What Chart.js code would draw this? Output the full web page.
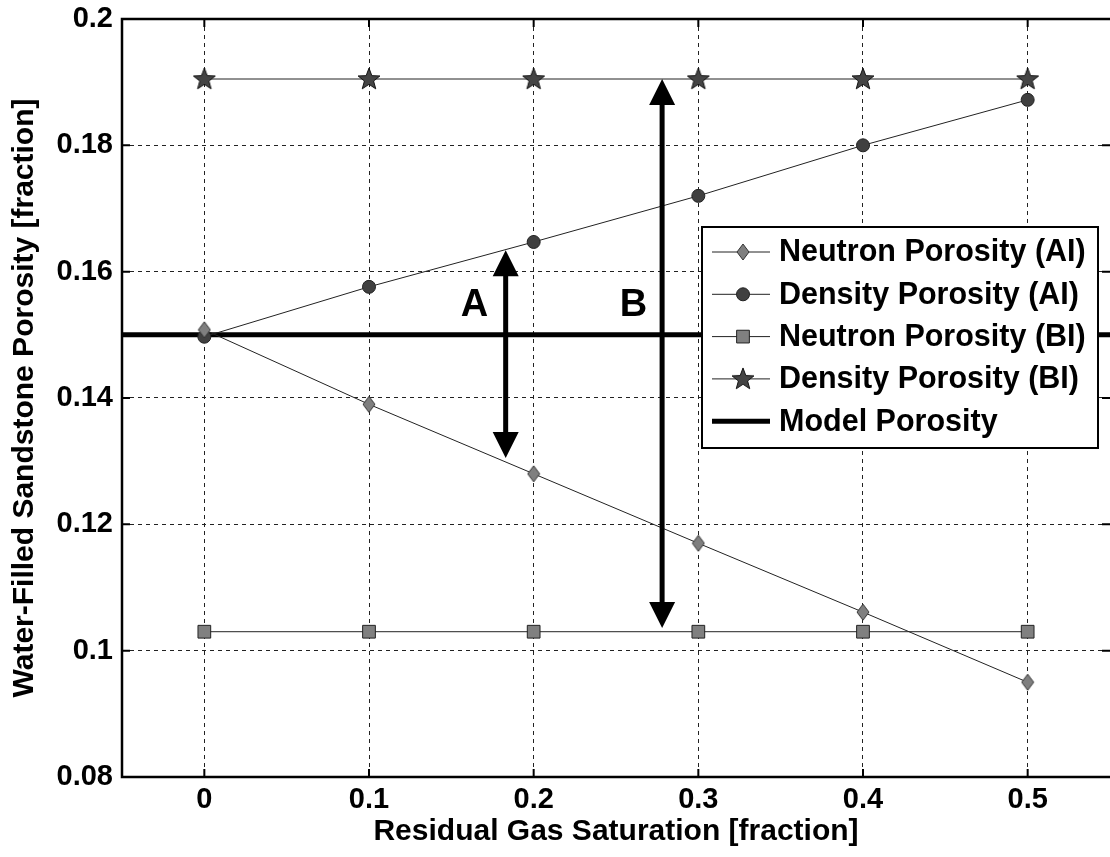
<!DOCTYPE html>
<html>
<head>
<meta charset="utf-8">
<script src="https://cdn.jsdelivr.net/npm/chart.js@4/dist/chart.umd.min.js"></script>
<style>
html, body { margin: 0; padding: 0; background: #fff; overflow: hidden; }
canvas { display: block; }
</style>
</head>
<body>
<canvas id="porosityChart" width="1110" height="857"></canvas>
<script>
// residual gas saturation (x) and the porosity curves
const gasSat = [0, 0.1, 0.2, 0.3, 0.4, 0.5];
const neutronAI = [0.1508, 0.139, 0.128, 0.117, 0.1061, 0.095];
const densityAI = [0.1497, 0.1576, 0.1647, 0.172, 0.180, 0.1872];
const neutronBI = [0.103, 0.103, 0.103, 0.103, 0.103, 0.103];
const densityBI = [0.1905, 0.1905, 0.1905, 0.1905, 0.1905, 0.1905];
const modelX = [-0.05, 0.55];
const modelPorosity = [0.15, 0.15];

const seriesNames = ['Neutron Porosity (AI)', 'Density Porosity (AI)', 'Neutron Porosity (BI)', 'Density Porosity (BI)', 'Model Porosity'];

const xTicks = [0, 0.1, 0.2, 0.3, 0.4, 0.5];
const yTicks = [0.08, 0.1, 0.12, 0.14, 0.16, 0.18, 0.2];

// double arrows showing the separation A (after invasion) and B (before invasion)
const arrows = [
    { x: 0.183, from: 0.1305, to: 0.1634 },
    { x: 0.278, from: 0.1036, to: 0.1905 }
];
const arrowLabels = [
    { text: 'A', x: 0.164, y: 0.1546 },
    { text: 'B', x: 0.2606, y: 0.1546 }
];

const FONT = 'Liberation Sans, Arial, sans-serif';

function makeMarker(kind) {
    const c = document.createElement('canvas');
    const ctx = c.getContext('2d');
    if (kind === 'star') {
        c.width = 26; c.height = 26;
        ctx.beginPath();
        for (let i = 0; i < 10; i++) {
            const r = i % 2 === 0 ? 11.5 : 4.8;
            const a = -Math.PI / 2 + i * Math.PI / 5;
            const px = 13 + r * Math.cos(a), py = 13.5 + r * Math.sin(a);
            if (i === 0) ctx.moveTo(px, py); else ctx.lineTo(px, py);
        }
        ctx.closePath();
        ctx.fillStyle = '#444';
        ctx.fill();
        ctx.strokeStyle = '#111';
        ctx.lineWidth = 1;
        ctx.stroke();
    } else {
        // thin diamond
        c.width = 14; c.height = 18;
        ctx.beginPath();
        ctx.moveTo(7, 1); ctx.lineTo(13, 9); ctx.lineTo(7, 17); ctx.lineTo(1, 9);
        ctx.closePath();
        ctx.fillStyle = '#7f7f7f';
        ctx.fill();
        ctx.strokeStyle = '#333';
        ctx.lineWidth = 1;
        ctx.stroke();
    }
    return c;
}

const starImg = makeMarker('star');
const diamondImg = makeMarker('diamond');

function pts(xs, ys) {
    return xs.map((x, i) => ({ x: x, y: ys[i] }));
}

function drawArrowHead(ctx, x, tipY, dir) {
    // dir = -1 pointing up, +1 pointing down
    ctx.beginPath();
    ctx.moveTo(x, tipY);
    ctx.lineTo(x - 13, tipY - dir * 26);
    ctx.lineTo(x + 13, tipY - dir * 26);
    ctx.closePath();
    ctx.fill();
}

const overlayPlugin = {
    id: 'overlay',
    afterDatasetsDraw(chart) {
        const ctx = chart.ctx;
        const xs = chart.scales.x, ys = chart.scales.y;
        const area = chart.chartArea;
        ctx.save();

        // inner tick marks
        ctx.strokeStyle = '#000';
        ctx.lineWidth = 2;
        ctx.beginPath();
        xTicks.forEach(t => {
            const px = xs.getPixelForValue(t);
            ctx.moveTo(px, area.bottom); ctx.lineTo(px, area.bottom - 8);
            ctx.moveTo(px, area.top); ctx.lineTo(px, area.top + 8);
        });
        yTicks.forEach(t => {
            const py = ys.getPixelForValue(t);
            ctx.moveTo(area.left, py); ctx.lineTo(area.left + 8, py);
            ctx.moveTo(area.right, py); ctx.lineTo(area.right - 8, py);
        });
        ctx.stroke();

        // axes frame
        ctx.lineWidth = 2.5;
        ctx.beginPath();
        ctx.moveTo(area.right + 2, area.top);
        ctx.lineTo(area.left, area.top);
        ctx.lineTo(area.left, area.bottom);
        ctx.lineTo(area.right + 2, area.bottom);
        ctx.stroke();

        // arrows
        ctx.fillStyle = '#000';
        ctx.lineWidth = 5;
        arrows.forEach(a => {
            const px = xs.getPixelForValue(a.x);
            const yTop = ys.getPixelForValue(a.to);
            const yBot = ys.getPixelForValue(a.from);
            ctx.beginPath();
            ctx.moveTo(px, yTop + 20);
            ctx.lineTo(px, yBot - 20);
            ctx.stroke();
            drawArrowHead(ctx, px, yTop, -1);
            drawArrowHead(ctx, px, yBot, 1);
        });

        ctx.font = 'bold 38px ' + FONT;
        ctx.textAlign = 'center';
        ctx.textBaseline = 'middle';
        arrowLabels.forEach(l => {
            ctx.fillText(l.text, xs.getPixelForValue(l.x), ys.getPixelForValue(l.y));
        });
        ctx.restore();
    },
    afterDraw(chart) {
        // legend box in the upper right of the plot
        const ctx = chart.ctx;
        const area = chart.chartArea;
        const box = { left: area.right - 408, top: 227, width: 396, height: 221 };
        ctx.save();
        ctx.fillStyle = '#fff';
        ctx.fillRect(box.left, box.top, box.width, box.height);
        ctx.strokeStyle = '#000';
        ctx.lineWidth = 2;
        ctx.strokeRect(box.left, box.top, box.width, box.height);

        ctx.font = 'bold 30.5px ' + FONT;
        ctx.textBaseline = 'middle';
        ctx.textAlign = 'left';
        chart.data.datasets.forEach((ds, i) => {
            const cy = box.top + 25 + i * 42.3;
            ctx.strokeStyle = ds.borderColor;
            ctx.lineWidth = ds.borderWidth;
            ctx.beginPath();
            ctx.moveTo(box.left + 10, cy);
            ctx.lineTo(box.left + 68, cy);
            ctx.stroke();
            if (ds.pointRadius > 0) {
                ctx.fillStyle = ds.pointBackgroundColor;
                ctx.strokeStyle = ds.pointBorderColor;
                ctx.lineWidth = ds.pointBorderWidth;
                Chart.helpers.drawPoint(ctx, {
                    pointStyle: ds.pointStyle,
                    radius: ds.pointRadius,
                    borderWidth: ds.pointBorderWidth,
                    rotation: 0
                }, box.left + 41, cy);
            }
            ctx.fillStyle = '#000';
            ctx.fillText(ds.label, box.left + 77, cy + 1);
        });
        ctx.restore();
    }
};

const lineCommon = {
    showLine: true,
    borderColor: '#222',
    borderWidth: 1,
    pointBorderColor: '#222',
    pointBorderWidth: 1
};

new Chart(document.getElementById('porosityChart'), {
    type: 'scatter',
    data: {
        datasets: [
            Object.assign({}, lineCommon, {
                label: seriesNames[0],
                data: pts(gasSat, neutronAI),
                pointStyle: diamondImg,
                pointRadius: 7,
                pointBackgroundColor: '#7f7f7f'
            }),
            Object.assign({}, lineCommon, {
                label: seriesNames[1],
                data: pts(gasSat, densityAI),
                pointStyle: 'circle',
                pointRadius: 6.5,
                pointBackgroundColor: '#404040'
            }),
            Object.assign({}, lineCommon, {
                label: seriesNames[2],
                data: pts(gasSat, neutronBI),
                pointStyle: 'rect',
                pointRadius: 9,
                pointBackgroundColor: '#808080'
            }),
            Object.assign({}, lineCommon, {
                label: seriesNames[3],
                data: pts(gasSat, densityBI),
                pointStyle: starImg,
                pointRadius: 11,
                pointBackgroundColor: '#444'
            }),
            {
                label: seriesNames[4],
                data: pts(modelX, modelPorosity),
                showLine: true,
                borderColor: '#000',
                borderWidth: 5,
                pointRadius: 0
            }
        ]
    },
    options: {
        responsive: false,
        animation: false,
        // plot box runs to the right edge of the canvas, no point overflow padding
        layout: { autoPadding: false, padding: { top: 19, right: 0, left: 0, bottom: 0 } },
        plugins: {
            legend: { display: false },
            tooltip: { enabled: false }
        },
        scales: {
            x: {
                type: 'linear',
                min: -0.05,
                max: 0.55,
                afterBuildTicks: s => { s.ticks = xTicks.map(v => ({ value: v })); },
                afterFit: s => {
                    s.height = 80;
                    s.paddingLeft = 0;
                    s.paddingRight = 0;
                },
                grid: { color: '#222', lineWidth: 1, drawTicks: false },
                border: { display: false, dash: [4, 4] },
                ticks: {
                    padding: 6,
                    color: '#000',
                    font: { family: FONT, size: 29, weight: 'bold' },
                    callback: v => String(Number(v.toFixed(2)))
                },
                title: {
                    display: true,
                    text: 'Residual Gas Saturation [fraction]',
                    color: '#000',
                    padding: { top: 0, bottom: 7 },
                    font: { family: FONT, size: 30, weight: 'bold', lineHeight: 1.2 }
                }
            },
            y: {
                min: 0.08,
                max: 0.2,
                afterBuildTicks: s => { s.ticks = yTicks.map(v => ({ value: v })); },
                afterFit: s => {
                    s.width = 122;
                    s.paddingTop = 0;
                    s.paddingBottom = 0;
                },
                grid: { color: '#222', lineWidth: 1, drawTicks: false },
                border: { display: false, dash: [4, 4] },
                ticks: {
                    padding: 9,
                    color: '#000',
                    font: { family: FONT, size: 29, weight: 'bold' },
                    callback: v => String(Number(v.toFixed(2)))
                },
                title: {
                    display: true,
                    text: 'Water-Filled Sandstone Porosity [fraction]',
                    color: '#000',
                    padding: { top: 7, bottom: 0 },
                    font: { family: FONT, size: 30, weight: 'bold', lineHeight: 1.2 }
                }
            }
        }
    },
    plugins: [overlayPlugin]
});
</script>
</body>
</html>
